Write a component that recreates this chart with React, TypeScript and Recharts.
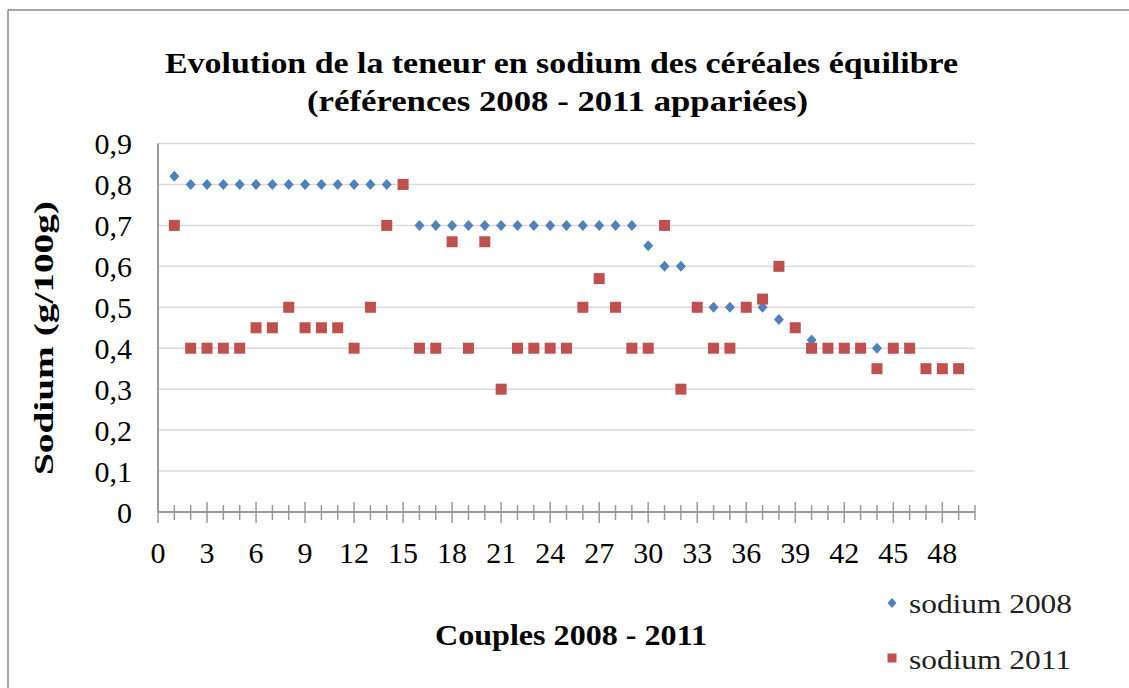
import React from "react";
import { ScatterChart, Scatter, XAxis, YAxis, CartesianGrid } from "recharts";

const couples = [
  1, 2, 3, 4, 5, 6, 7, 8, 9, 10, 11, 12, 13, 14, 15, 16, 17, 18, 19, 20, 21, 22, 23, 24, 25,
  26, 27, 28, 29, 30, 31, 32, 33, 34, 35, 36, 37, 38, 39, 40, 41, 42, 43, 44, 45, 46, 47, 48, 49,
];
const sodium2008 = [
  0.82, 0.8, 0.8, 0.8, 0.8, 0.8, 0.8, 0.8, 0.8, 0.8, 0.8, 0.8, 0.8, 0.8, 0.8,
  0.7, 0.7, 0.7, 0.7, 0.7, 0.7, 0.7, 0.7, 0.7, 0.7, 0.7, 0.7, 0.7, 0.7,
  0.65, 0.6, 0.6, 0.5, 0.5, 0.5, 0.5, 0.5, 0.47, 0.45, 0.42,
  0.4, 0.4, 0.4, 0.4, 0.4, 0.4, 0.35, 0.35, 0.35,
];
const sodium2011 = [
  0.7, 0.4, 0.4, 0.4, 0.4, 0.45, 0.45, 0.5, 0.45, 0.45, 0.45, 0.4, 0.5, 0.7, 0.8,
  0.4, 0.4, 0.66, 0.4, 0.66, 0.3, 0.4, 0.4, 0.4, 0.4, 0.5, 0.57, 0.5, 0.4, 0.4,
  0.7, 0.3, 0.5, 0.4, 0.4, 0.5, 0.52, 0.6, 0.45, 0.4, 0.4, 0.4, 0.4, 0.35,
  0.4, 0.4, 0.35, 0.35, 0.35,
];
const yTicks = [0, 0.1, 0.2, 0.3, 0.4, 0.5, 0.6, 0.7, 0.8, 0.9];
const xTicks = [
  0, 1, 2, 3, 4, 5, 6, 7, 8, 9, 10, 11, 12, 13, 14, 15, 16, 17, 18, 19, 20, 21, 22, 23, 24, 25,
  26, 27, 28, 29, 30, 31, 32, 33, 34, 35, 36, 37, 38, 39, 40, 41, 42, 43, 44, 45, 46, 47, 48, 49, 50,
];
const xLabelTicks = [0, 3, 6, 9, 12, 15, 18, 21, 24, 27, 30, 33, 36, 39, 42, 45, 48];

const title1 = "Evolution de la teneur en sodium des céréales équilibre";
const title2 = "(références 2008 - 2011 appariées)";
const xTitle = "Couples 2008 - 2011";
const yTitle = "Sodium (g/100g)";
const series1Name = "sodium 2008";
const series2Name = "sodium 2011";

const BLUE = "#4F81BD";
const RED = "#C0504D";
const FONT = "'Liberation Serif', 'DejaVu Serif', serif";

const data2008 = couples.map((c, i) => ({ x: c, y: sodium2008[i] }));
const data2011 = couples.map((c, i) => ({ x: c, y: sodium2011[i] }));

const Diamond = (props: any) => {
  const { cx, cy } = props;
  return (
    <polygon
      points={`${cx},${cy - 5.5} ${cx + 5},${cy} ${cx},${cy + 5.5} ${cx - 5},${cy}`}
      fill={BLUE}
    />
  );
};

const Square = (props: any) => {
  const { cx, cy } = props;
  return <rect x={cx - 5.5} y={cy - 5.5} width={11} height={11} fill={RED} />;
};

const XTick = (props: any) => {
  const { x, y, payload } = props;
  const v = payload.value;
  const major = xLabelTicks.includes(v);
  return (
    <g>
      <line
        x1={x}
        x2={x}
        y1={y - (major ? 10 : 7)}
        y2={y + (major ? 11 : 8)}
        stroke="#9a9a9a"
        strokeWidth={1.5}
      />
      {major && (
        <text x={x} y={y + 51} textAnchor="middle" fontFamily={FONT} fontSize={30} fill="#000">
          {v}
        </text>
      )}
    </g>
  );
};

const fmtY = (v: number) => (v === 0 ? "0" : v.toFixed(1).replace(".", ","));

export default function App() {
  return (
    <div style={{ position: "fixed", left: 0, top: 0, width: 1129, height: 688, background: "#fff", overflow: "hidden" }}>
      <style>{`html, body { margin: 0; overflow: hidden; }`}</style>
      <ScatterChart
        width={1129}
        height={688}
        margin={{ top: 143.5, right: 154, bottom: 146, left: 98 }}
      >
        <CartesianGrid vertical={false} stroke="#d9d9d9" strokeWidth={1.5} />
        <XAxis
          dataKey="x"
          type="number"
          domain={[0, 50]}
          ticks={xTicks}
          interval={0}
          height={30}
          tickLine={false}
          tickSize={0}
          tickMargin={0}
          tick={<XTick />}
          axisLine={{ stroke: "#9a9a9a", strokeWidth: 2 }}
        />
        <YAxis
          dataKey="y"
          type="number"
          domain={[0, 0.9]}
          ticks={yTicks}
          interval={0}
          width={60}
          tickLine={false}
          tickSize={0}
          tickMargin={26}
          tickFormatter={fmtY}
          tick={{ fontFamily: FONT, fontSize: 30, fill: "#000" }}
          axisLine={{ stroke: "#9a9a9a", strokeWidth: 2 }}
        />
        <Scatter name={series1Name} data={data2008} fill={BLUE} shape={Diamond} isAnimationActive={false} />
        <Scatter name={series2Name} data={data2011} fill={RED} shape={Square} isAnimationActive={false} />
      </ScatterChart>
      <svg
        width={1129}
        height={688}
        style={{ position: "absolute", left: 0, top: 0, pointerEvents: "none" }}
      >
        <line x1={8} y1={10} x2={1129} y2={10} stroke="#8a8a8a" strokeWidth={1.5} />
        <line x1={8} y1={10} x2={8} y2={688} stroke="#8a8a8a" strokeWidth={1.5} />
        <text
          x={561.5}
          y={73}
          textAnchor="middle"
          fontFamily={FONT}
          fontWeight="bold"
          fontSize={30}
          textLength={793}
          lengthAdjust="spacingAndGlyphs"
          fill="#000"
        >
          {title1}
        </text>
        <text
          x={557.5}
          y={111}
          textAnchor="middle"
          fontFamily={FONT}
          fontWeight="bold"
          fontSize={30}
          textLength={501}
          lengthAdjust="spacingAndGlyphs"
          fill="#000"
        >
          {title2}
        </text>
        <text
          transform="translate(53,338) rotate(-90)"
          textAnchor="middle"
          fontFamily={FONT}
          fontWeight="bold"
          fontSize={28}
          textLength={274}
          lengthAdjust="spacingAndGlyphs"
          fill="#000"
        >
          {yTitle}
        </text>
        <text
          x={571}
          y={645}
          textAnchor="middle"
          fontFamily={FONT}
          fontWeight="bold"
          fontSize={30}
          textLength={272}
          lengthAdjust="spacingAndGlyphs"
          fill="#000"
        >
          {xTitle}
        </text>
        <polygon points="892,598 896.5,603 892,608 887.5,603" fill={BLUE} />
        <text
          x={909}
          y={613}
          fontFamily={FONT}
          fontSize={28}
          textLength={163}
          lengthAdjust="spacingAndGlyphs"
          fill="#222"
        >
          {series1Name}
        </text>
        <rect x={887.5} y={653.5} width={9} height={9} fill={RED} />
        <text
          x={909}
          y={669}
          fontFamily={FONT}
          fontSize={28}
          textLength={162}
          lengthAdjust="spacingAndGlyphs"
          fill="#222"
        >
          {series2Name}
        </text>
      </svg>
    </div>
  );
}
